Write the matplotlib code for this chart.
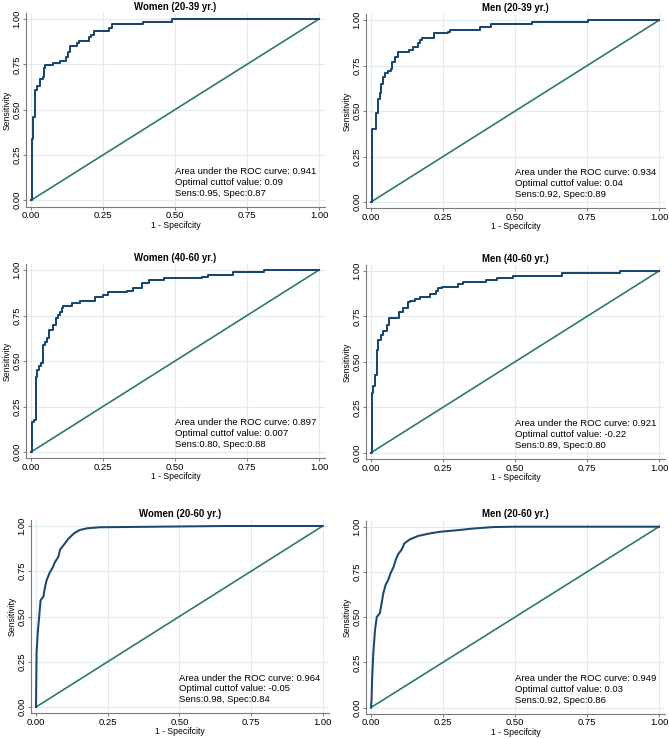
import numpy as np
import matplotlib
matplotlib.use('Agg')
import matplotlib.pyplot as plt

plt.rcParams['font.family'] = ['Liberation Sans', 'DejaVu Sans']

# ROC vertices (1 - specificity, sensitivity)
w2039_fpr = [0, 0.003, 0.008, 0.014, 0.02, 0.03, 0.04, 0.045, 0.05, 0.075, 0.10, 0.12, 0.13, 0.135,
             0.16, 0.165, 0.20, 0.21, 0.22, 0.27, 0.28, 0.37, 0.39, 0.49, 1.0]
w2039_tpr = [0, 0.34, 0.46, 0.61, 0.63, 0.67, 0.68, 0.73, 0.745, 0.76, 0.77, 0.79, 0.82, 0.85,
             0.87, 0.88, 0.90, 0.91, 0.935, 0.95, 0.97, 0.975, 0.985, 1.0, 1.0]

m2039_fpr = [0, 0.002, 0.016, 0.023, 0.031, 0.035, 0.04, 0.049, 0.06, 0.069, 0.074, 0.083, 0.095,
             0.132, 0.147, 0.162, 0.17, 0.176, 0.22, 0.268, 0.276, 0.378, 0.417, 0.56, 0.755, 1.0]
m2039_tpr = [0, 0.40, 0.49, 0.567, 0.60, 0.65, 0.69, 0.71, 0.72, 0.73, 0.77, 0.80, 0.824,
             0.837, 0.855, 0.873, 0.89, 0.90, 0.928, 0.936, 0.945, 0.963, 0.98, 0.99, 1.0, 1.0]

w4060_fpr = [0, 0.002, 0.012, 0.016, 0.022, 0.029, 0.035, 0.04, 0.049, 0.054, 0.064, 0.078, 0.086,
             0.093, 0.10, 0.106, 0.112, 0.141, 0.17, 0.222, 0.25, 0.268, 0.332, 0.355, 0.384, 0.41,
             0.463, 0.593, 0.616, 0.703, 0.81, 1.0]
w4060_tpr = [0, 0.167, 0.176, 0.414, 0.45, 0.473, 0.487, 0.588, 0.606, 0.625, 0.67, 0.698, 0.734,
             0.753, 0.771, 0.79, 0.80, 0.817, 0.83, 0.85, 0.863, 0.88, 0.886, 0.90, 0.927, 0.945,
             0.954, 0.963, 0.973, 0.987, 1.0, 1.0]

m4060_fpr = [0, 0.002, 0.008, 0.014, 0.02, 0.025, 0.035, 0.04, 0.054, 0.062, 0.098, 0.112, 0.127,
             0.135, 0.153, 0.17, 0.205, 0.225, 0.232, 0.245, 0.303, 0.318, 0.40, 0.436, 0.494,
             0.662, 0.865, 1.0]
m4060_tpr = [0, 0.327, 0.369, 0.43, 0.565, 0.62, 0.648, 0.672, 0.703, 0.74, 0.776, 0.794, 0.83,
             0.837, 0.844, 0.859, 0.873, 0.892, 0.905, 0.914, 0.928, 0.937, 0.95, 0.96, 0.972,
             0.987, 1.0, 1.0]

w2060_fpr = [0, 0.002, 0.006, 0.01, 0.016, 0.026, 0.031, 0.037, 0.047, 0.058, 0.066, 0.078, 0.084,
             0.099, 0.113, 0.133, 0.153, 0.177, 0.223, 0.665, 1.0]
w2060_tpr = [0, 0.30, 0.41, 0.48, 0.59, 0.61, 0.66, 0.70, 0.74, 0.77, 0.80, 0.83, 0.87,
             0.90, 0.93, 0.96, 0.978, 0.987, 0.993, 1.0, 1.0]

m2060_fpr = [0, 0.002, 0.004, 0.008, 0.014, 0.02, 0.031, 0.037, 0.043, 0.051, 0.06, 0.068, 0.078,
             0.086, 0.095, 0.106, 0.116, 0.135, 0.164, 0.205, 0.24, 0.309, 0.355, 0.425, 0.5, 1.0]
m2060_tpr = [0, 0.046, 0.165, 0.30, 0.43, 0.50, 0.523, 0.578, 0.633, 0.68, 0.706, 0.743, 0.776,
             0.817, 0.85, 0.872, 0.908, 0.93, 0.949, 0.963, 0.972, 0.982, 0.99, 0.998, 1.0, 1.0]

titles = ["Women (20-39 yr.)", "Men (20-39 yr.)", "Women (40-60 yr.)",
          "Men (40-60 yr.)", "Women (20-60 yr.)", "Men (20-60 yr.)"]
auc = ["0.941", "0.934", "0.897", "0.921", "0.964", "0.949"]
cutoff = ["0.09", "0.04", "0.007", "-0.22", "-0.05", "0.03"]
sens = ["0.95", "0.92", "0.80", "0.89", "0.98", "0.92"]
spec = ["0.87", "0.89", "0.88", "0.80", "0.84", "0.86"]

ticks = [0, 0.25, 0.5, 0.75, 1.0]
tick_labels = ["0.00", "0.25", "0.50", "0.75", "1.00"]

navy = '#1a476f'
teal = '#2b7a6c'
gridc = '#e0ecf0'
W, H = 669.0, 739.0

fig = plt.figure(figsize=(W / 100, H / 100), dpi=100)
fig.patch.set_facecolor('white')

xl = (-0.018, 1.021)
yl = (-0.035, 1.033)

def roc_panel(px0, px1, py1, py0, fpr, tpr, i, steps=True):
    # px0/px1: pixel columns of x=0/x=1, py1/py0: pixel rows of y=1/y=0
    sx = px1 - px0
    sy = py0 - py1
    left = px0 + xl[0] * sx
    right = px0 + xl[1] * sx
    top = py0 - yl[1] * sy
    bottom = py0 - yl[0] * sy
    ax = fig.add_axes([left / W, 1 - bottom / H, (right - left) / W, (bottom - top) / H])
    ax.set_xlim(xl)
    ax.set_ylim(yl)
    for s in ['top', 'right']:
        ax.spines[s].set_visible(False)
    for s in ['left', 'bottom']:
        ax.spines[s].set_color('#7a7a7a')
        ax.spines[s].set_linewidth(0.8)
    ax.set_xticks(ticks)
    ax.set_yticks(ticks)
    ax.set_xticklabels(tick_labels, fontsize=6.8)
    ax.set_yticklabels(tick_labels, fontsize=6.8, rotation=90, va='center')
    ax.tick_params(direction='out', length=2.2, width=0.7, color='#7a7a7a', pad=1.0)
    ax.grid(True, color=gridc, linewidth=0.8)
    ax.set_axisbelow(True)
    ax.plot([0, 1], [0, 1], color=teal, lw=1.2)
    if steps:
        ax.plot(fpr, tpr, color=navy, lw=1.45, drawstyle='steps-post')
    else:
        ax.plot(fpr, tpr, color=navy, lw=1.45)
    ax.set_title(titles[i], fontsize=6.9, fontweight='bold', pad=2.5)
    ax.set_xlabel("1 - Specifcity", fontsize=6.2, labelpad=0.3)
    ax.set_ylabel("Sensitivity", fontsize=6.2, labelpad=0.5)
    ax.text(0.5, 0.16, "Area under the ROC curve: " + auc[i], fontsize=6.8, va='center')
    ax.text(0.5, 0.10, "Optimal cuttof value: " + cutoff[i], fontsize=6.8, va='center')
    ax.text(0.5, 0.04, "Sens:" + sens[i] + ", Spec:" + spec[i], fontsize=6.8, va='center')
    return ax

roc_panel(31, 319, 19, 200.3, w2039_fpr, w2039_tpr, 0)
roc_panel(371, 659, 20.3, 202, m2039_fpr, m2039_tpr, 1)
roc_panel(31, 319, 270, 452, w4060_fpr, w4060_tpr, 2)
roc_panel(371, 659, 271, 452.7, m4060_fpr, m4060_tpr, 3)
roc_panel(36, 322.7, 526, 707, w2060_fpr, w2060_tpr, 4, steps=False)
roc_panel(371, 659, 526.7, 707.5, m2060_fpr, m2060_tpr, 5, steps=False)

plt.savefig("out.png", dpi=100)
